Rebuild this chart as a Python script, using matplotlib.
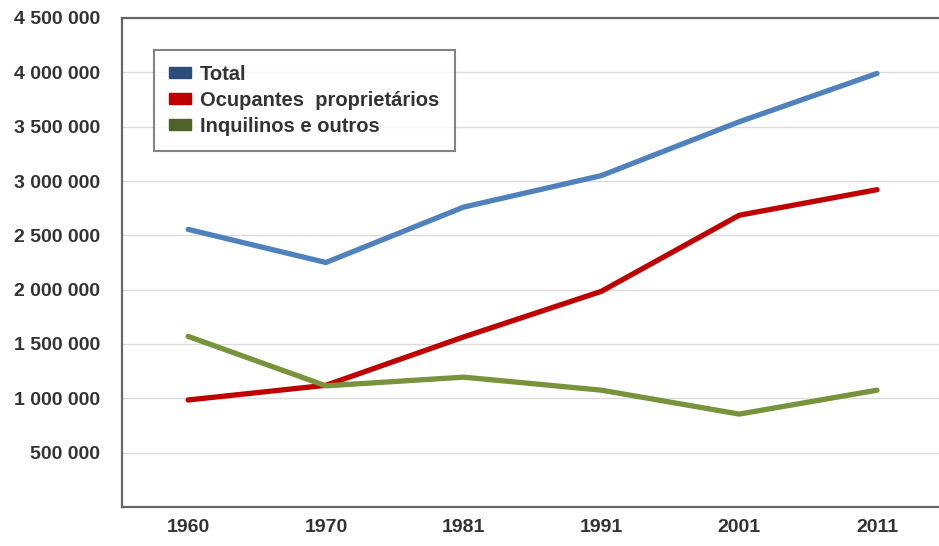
import matplotlib.pyplot as plt
from matplotlib.patches import Patch
from matplotlib.ticker import FuncFormatter

plt.rcParams['font.family'] = ['Liberation Sans', 'DejaVu Sans']

# data
years = ["1960", "1970", "1981", "1991", "2001", "2011"]
total = [2555000, 2250000, 2760000, 3050000, 3545000, 3990000]
proprietarios = [985000, 1120000, 1565000, 1985000, 2685000, 2920000]
inquilinos = [1570000, 1115000, 1195000, 1075000, 855000, 1075000]
labels = ["Total", "Ocupantes  proprietários", "Inquilinos e outros"]
y_ticks = [500000, 1000000, 1500000, 2000000, 2500000,
           3000000, 3500000, 4000000, 4500000]

line_colors = ["#4f81bd", "#c00000", "#77933c"]
patch_colors = ["#2b4c7e", "#c00000", "#4f6228"]


def fmt_thousands(v, pos):
    return format(int(v), ",").replace(",", " ")


fig = plt.figure(figsize=(9.39, 5.46), dpi=100)
ax = fig.add_axes([122 / 939, 39 / 546, 817 / 939, 489 / 546])

x = range(len(years))
for series, color in zip([total, proprietarios, inquilinos], line_colors):
    ax.plot(x, series, color=color, lw=3.8, solid_capstyle="round", zorder=3)

ax.set_xlim(-0.48, 5.45)
ax.set_ylim(0, 4500000)
ax.set_xticks(list(x))
ax.set_xticklabels(years)
ax.set_yticks(y_ticks)
ax.yaxis.set_major_formatter(FuncFormatter(fmt_thousands))
ax.grid(axis="y", color="#dcdcdc", lw=1)
ax.set_axisbelow(True)

for side in ["left", "bottom", "top"]:
    ax.spines[side].set_color("#666666")
    ax.spines[side].set_linewidth(1.6)
ax.spines["right"].set_visible(False)

ax.tick_params(axis="both", length=0, labelsize=14, labelcolor="#333333")
ax.tick_params(axis="y", pad=16)
ax.tick_params(axis="x", pad=9)
for lab in ax.get_xticklabels() + ax.get_yticklabels():
    lab.set_fontweight("bold")

handles = [Patch(facecolor=c, edgecolor=c) for c in patch_colors]
leg = ax.legend(handles, labels, loc="upper left", bbox_to_anchor=(0.039, 0.935),
                borderaxespad=0, fancybox=False, edgecolor="#666666",
                prop={"size": 14.5, "weight": "bold"}, handlelength=1.1,
                handleheight=0.45, handletextpad=0.45, labelspacing=0.35,
                borderpad=0.75)
leg.get_frame().set_linewidth(1.5)
for t in leg.get_texts():
    t.set_color("#333333")

fig.savefig("out.png", dpi=100)
